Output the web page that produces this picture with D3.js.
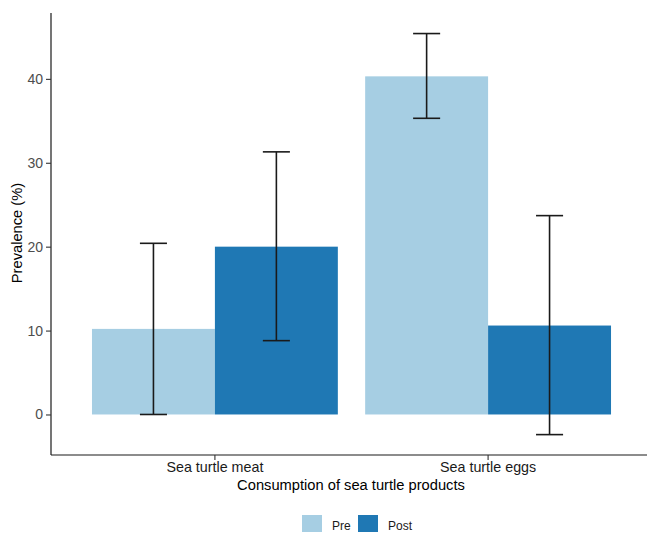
<!DOCTYPE html>
<html>
<head>
<meta charset="utf-8">
<script src="https://cdn.jsdelivr.net/npm/d3@7"></script>
<style>
  body { margin: 0; background: #fff; }
  svg { display: block; font-family: "Liberation Sans", Arial, sans-serif; }
</style>
</head>
<body>
<svg id="chart" width="647" height="534"></svg>
<script>
const categories = ["Sea turtle meat", "Sea turtle eggs"];
const groups = ["Pre", "Post"];
const preValues = [10.2, 40.3];
const postValues = [20.0, 10.6];
const preLower = [0.0, 35.3];
const preUpper = [20.4, 45.4];
const postLower = [8.8, -2.4];
const postUpper = [31.3, 23.7];
const yTicks = [0, 10, 20, 30, 40];
const colors = ["#a6cee3", "#1f78b4"];

(function () {
const data = [];
categories.forEach((c, i) => {
  data.push({cat: c, group: "Pre", value: preValues[i], lo: preLower[i], hi: preUpper[i]});
  data.push({cat: c, group: "Post", value: postValues[i], lo: postLower[i], hi: postUpper[i]});
});

const svg = d3.select("#chart");
const mLeft = 51, mRight = 652, mTop = 13, mBottom = 455;

const x = d3.scaleBand().domain(categories).range([mLeft, mRight]).paddingInner(0.1).paddingOuter(0.15);
const xg = d3.scaleBand().domain(groups).range([0, x.bandwidth()]);
const y = d3.scaleLinear().domain([-4.83, 47.85]).range([mBottom, mTop]);
const color = d3.scaleOrdinal().domain(groups).range(colors);

// bars
svg.append("g").selectAll("rect").data(data).join("rect")
  .attr("x", d => x(d.cat) + xg(d.group))
  .attr("width", xg.bandwidth())
  .attr("y", d => y(Math.max(0, d.value)))
  .attr("height", d => Math.abs(y(d.value) - y(0)))
  .attr("fill", d => color(d.group));

// error bars
const capW = xg.bandwidth() * 0.22;
const eb = svg.append("g").attr("stroke", "#1a1a1a").attr("stroke-width", 1.6).attr("fill", "none");
data.forEach(d => {
  const cx = x(d.cat) + xg(d.group) + xg.bandwidth() / 2;
  eb.append("line").attr("x1", cx).attr("x2", cx).attr("y1", y(d.lo)).attr("y2", y(d.hi));
  eb.append("line").attr("x1", cx - capW / 2).attr("x2", cx + capW / 2).attr("y1", y(d.lo)).attr("y2", y(d.lo));
  eb.append("line").attr("x1", cx - capW / 2).attr("x2", cx + capW / 2).attr("y1", y(d.hi)).attr("y2", y(d.hi));
});

// y axis
const yAxis = svg.append("g").attr("transform", `translate(${mLeft},0)`)
  .call(d3.axisLeft(y).tickValues(yTicks).tickSize(5).tickPadding(3));
yAxis.select(".domain").attr("stroke", "#1a1a1a").attr("stroke-width", 1.2).attr("d", `M0,${mTop}V${mBottom}`);
yAxis.selectAll(".tick line").attr("stroke", "#333").attr("stroke-width", 1.1);
yAxis.selectAll(".tick text").attr("fill", "#4d4d4d").style("font-size", "14px").attr("font-family", "Liberation Sans, Arial, sans-serif");

// x axis
const xAxis = svg.append("g").attr("transform", `translate(0,${mBottom})`)
  .call(d3.axisBottom(x).tickSize(5).tickPadding(2));
xAxis.select(".domain").attr("stroke", "#1a1a1a").attr("stroke-width", 1.2).attr("d", `M${mLeft},0H${mRight}`);
xAxis.selectAll(".tick line").attr("stroke", "#333").attr("stroke-width", 1.1);
xAxis.selectAll(".tick text").attr("fill", "#1a1a1a").style("font-size", "14.3px").attr("font-family", "Liberation Sans, Arial, sans-serif");

// axis titles
svg.append("text").attr("x", (mLeft + 647) / 2 + 2).attr("y", 490)
  .attr("text-anchor", "middle").style("font-size", "14.7px").attr("fill", "#000")
  .text("Consumption of sea turtle products");
svg.append("text").attr("transform", `translate(22,233) rotate(-90)`)
  .attr("text-anchor", "middle").style("font-size", "14.7px").attr("fill", "#000")
  .text("Prevalence (%)");

// legend
const legend = svg.append("g");
const legendX = [302, 358];
groups.forEach((g, i) => {
  legend.append("rect").attr("x", legendX[i]).attr("y", 515).attr("width", 20).attr("height", 17).attr("fill", color(g));
  legend.append("text").attr("x", legendX[i] + 30).attr("y", 529.5).style("font-size", "12px").attr("fill", "#1a1a1a").text(g);
});
})();
</script>
</body>
</html>
